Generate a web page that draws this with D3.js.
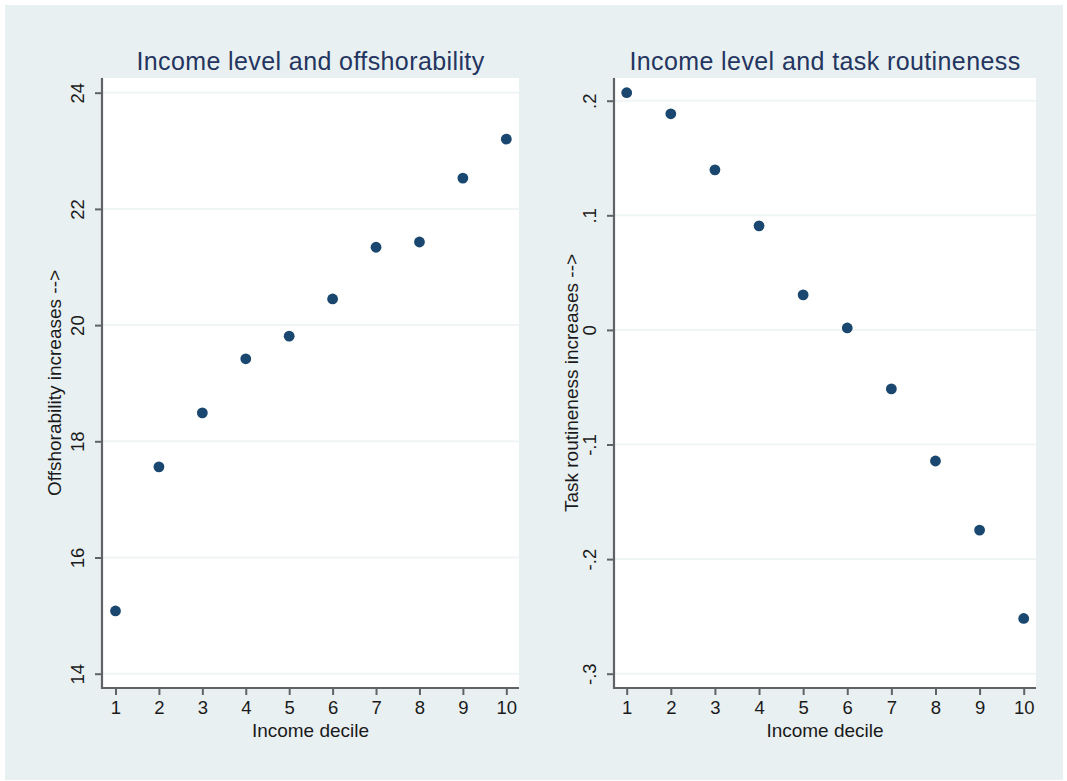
<!DOCTYPE html>
<html>
<head>
<meta charset="utf-8">
<script src="https://cdn.jsdelivr.net/npm/d3@7"></script>
<style>
  html, body { margin: 0; padding: 0; background: #ffffff; }
  svg { display: block; font-family: "Liberation Sans", Arial, sans-serif; }
</style>
</head>
<body>
<svg id="chart" width="1067" height="781"></svg>
<script>
// Income deciles shared by both panels
const deciles = [1, 2, 3, 4, 5, 6, 7, 8, 9, 10];

// Panel 1: offshorability index by income decile
const offshorability = [15.08, 17.56, 18.49, 19.42, 19.81, 20.45, 21.34, 21.43, 22.53, 23.20];
const offshorTicks = [14, 16, 18, 20, 22, 24];
const offshorTickLabels = ["14", "16", "18", "20", "22", "24"];

// Panel 2: task routineness by income decile
const routineness = [0.207, 0.1886, 0.1397, 0.0908, 0.0306, 0.0017, -0.0515, -0.1144, -0.1747, -0.2518];
const routineTicks = [-0.3, -0.2, -0.1, 0, 0.1, 0.2];
const routineTickLabels = ["-.3", "-.2", "-.1", "0", ".1", ".2"];

const titles = ["Income level and offshorability", "Income level and task routineness"];
const yTitles = ["Offshorability increases -->", "Task routineness increases -->"];
const xTitle = "Income decile";

const BG = "#e9f0f2";
const GRID = "#eff4f5";
const AXIS = "#5f6366";
const MARKER = "#1a476f";
const TITLE = "#243560";

const svg = d3.select("#chart");

// graph region
svg.append("rect")
  .attr("x", 5).attr("y", 5).attr("width", 1058).attr("height", 775)
  .attr("fill", BG);

const panels = [
  {
    values: offshorability, ticks: offshorTicks, labels: offshorTickLabels,
    yDomain: [14, 24],
    box: { left: 102, right: 519, top: 78, bottom: 688 },
    xRange: [115.5, 506.3], yRange: [673.7, 92.7], yTitleX: 61
  },
  {
    values: routineness, ticks: routineTicks, labels: routineTickLabels,
    yDomain: [-0.3, d3.max(routineness)],
    box: { left: 614, right: 1036, top: 78, bottom: 688 },
    xRange: [626.7, 1023.7], yRange: [673.7, 92.7], yTitleX: 578
  }
];

panels.forEach((p, i) => {
  const b = p.box;
  const x = d3.scaleLinear().domain([1, 10]).range(p.xRange);
  const y = d3.scaleLinear().domain(p.yDomain).range(p.yRange);
  const g = svg.append("g");

  // plot region
  g.append("rect")
    .attr("x", b.left).attr("y", b.top)
    .attr("width", b.right - b.left).attr("height", b.bottom - b.top)
    .attr("fill", "#ffffff");

  // horizontal gridlines
  g.append("g").selectAll("line").data(p.ticks).join("line")
    .attr("x1", b.left).attr("x2", b.right)
    .attr("y1", d => y(d)).attr("y2", d => y(d))
    .attr("stroke", GRID).attr("stroke-width", 2);

  // y axis
  const yAxis = d3.axisLeft(y)
    .tickValues(p.ticks)
    .tickSize(7)
    .tickFormat((d, k) => p.labels[k]);
  const ya = g.append("g").attr("transform", `translate(${b.left},0)`).call(yAxis);
  ya.select(".domain").remove();
  ya.selectAll(".tick line").attr("stroke", AXIS).attr("stroke-width", 2);
  ya.selectAll(".tick text")
    .attr("x", 0).attr("y", -18).attr("dy", 0)
    .attr("transform", "rotate(-90)")
    .attr("text-anchor", "middle")
    .attr("font-size", 18.5)
    .attr("font-family", "Liberation Sans, Arial, sans-serif")
    .attr("fill", "#1a1a1a");
  g.append("line")
    .attr("x1", b.left).attr("x2", b.left)
    .attr("y1", b.top).attr("y2", b.bottom + 1)
    .attr("stroke", AXIS).attr("stroke-width", 2.2);

  // x axis
  const xAxis = d3.axisBottom(x)
    .tickValues(deciles)
    .tickSize(7)
    .tickFormat(d3.format("d"));
  const xa = g.append("g").attr("transform", `translate(0,${b.bottom})`).call(xAxis);
  xa.select(".domain").remove();
  xa.selectAll(".tick line").attr("stroke", AXIS).attr("stroke-width", 2);
  xa.selectAll(".tick text")
    .attr("y", 25.5).attr("dy", 0)
    .attr("font-size", 18.5)
    .attr("font-family", "Liberation Sans, Arial, sans-serif")
    .attr("fill", "#1a1a1a");
  g.append("line")
    .attr("x1", b.left - 1).attr("x2", b.right)
    .attr("y1", b.bottom).attr("y2", b.bottom)
    .attr("stroke", AXIS).attr("stroke-width", 2.2);

  // markers
  g.append("g").selectAll("circle").data(deciles).join("circle")
    .attr("cx", d => x(d))
    .attr("cy", (d, k) => y(p.values[k]))
    .attr("r", 5.4)
    .attr("fill", MARKER);

  // titles
  const cx = (b.left + b.right) / 2;
  g.append("text")
    .attr("x", cx).attr("y", 70)
    .attr("text-anchor", "middle")
    .attr("font-size", 25)
    .attr("letter-spacing", 0.4)
    .attr("fill", TITLE)
    .text(titles[i]);

  g.append("text")
    .attr("x", cx).attr("y", 737)
    .attr("text-anchor", "middle")
    .attr("font-size", 19)
    .attr("fill", "#1a1a1a")
    .text(xTitle);

  const cy = (b.top + b.bottom) / 2;
  g.append("text")
    .attr("transform", `translate(${p.yTitleX},${cy}) rotate(-90)`)
    .attr("text-anchor", "middle")
    .attr("font-size", 19)
    .attr("fill", "#1a1a1a")
    .text(yTitles[i]);
});
</script>
</body>
</html>
